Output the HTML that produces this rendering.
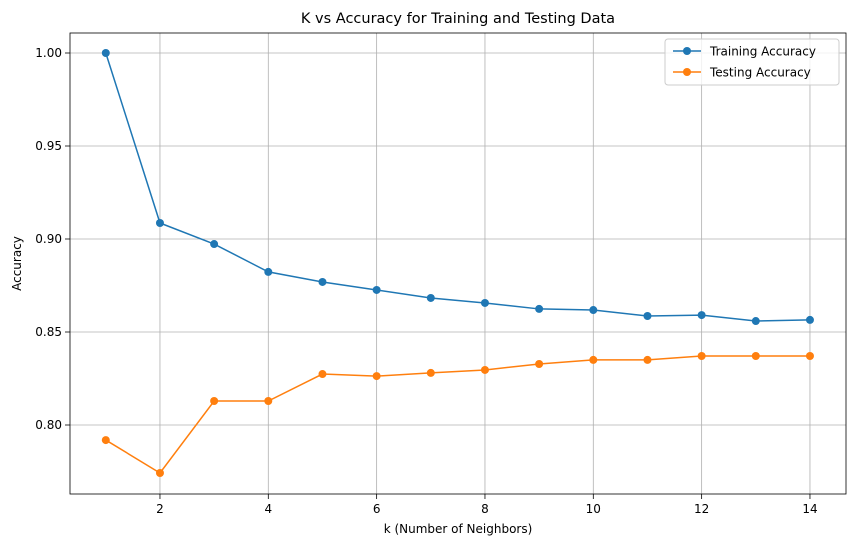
<!DOCTYPE html>
<html><head><meta charset="utf-8"><style>
body{margin:0;background:#fff;font-family:"Liberation Sans","DejaVu Sans",sans-serif;}
svg text{font-family:"DejaVu Sans","Liberation Sans",sans-serif;}
</style></head><body>
<svg id="chart" width="855" height="547" xmlns="http://www.w3.org/2000/svg"></svg>
<script>
const kValues=[1,2,3,4,5,6,7,8,9,10,11,12,13,14];
const trainAcc=[1.0,0.9086,0.8973,0.8823,0.8769,0.8726,0.8683,0.8656,0.8624,0.8618,0.8586,0.8591,0.8559,0.8565];
const testAcc=[0.7919,0.7742,0.8129,0.8129,0.8274,0.8263,0.828,0.8296,0.8328,0.835,0.835,0.8371,0.8371,0.8371];
const xTicks=[2,4,6,8,10,12,14];
const yTicks=[0.80,0.85,0.90,0.95,1.00];
const yTickLabels=["0.80","0.85","0.90","0.95","1.00"];

const L=70,R=846,T=33,B=494;
const sx=v=>105.8+(v-1)*(810-160)/12;
const sy=v=>53+(1-v)*(425-53)/0.2;
const svg=document.getElementById('chart');
const NS="http://www.w3.org/2000/svg";
function mk(tag,attrs,parent){const e=document.createElementNS(NS,tag);for(const k in attrs)e.setAttribute(k,attrs[k]);(parent||svg).appendChild(e);return e;}

const grid=mk('g',{});


xTicks.forEach(t=>{
  mk('line',{x1:sx(t),x2:sx(t),y1:T,y2:B,stroke:'#b0b0b0','stroke-width':0.8},grid);
  mk('line',{x1:sx(t),x2:sx(t),y1:B,y2:B+5,stroke:'#000','stroke-width':0.8});
  const tx=mk('text',{x:sx(t),y:B+19,'text-anchor':'middle','font-size':12});
  tx.textContent=t;
  
  
});
yTicks.forEach((t,i)=>{
  mk('line',{x1:L,x2:R,y1:sy(t),y2:sy(t),stroke:'#b0b0b0','stroke-width':0.8},grid);
  mk('line',{x1:L-5,x2:L,y1:sy(t),y2:sy(t),stroke:'#000','stroke-width':0.8});
  const tx=mk('text',{x:L-8,y:sy(t)+4,'text-anchor':'end','font-size':12});
  tx.textContent=yTickLabels[i];
  
  
});

function series(vals,color,name){
  const g=mk('g',{});
  
  
  mk('polyline',{points:vals.map((v,i)=>sx(kValues[i])+','+sy(v)).join(' '),fill:'none',stroke:color,'stroke-width':1.5},g);
  vals.forEach((v,i)=>{
    const c=mk('circle',{cx:sx(kValues[i]),cy:sy(v),r:4,fill:color},g);
    
    
  });
}
series(trainAcc,'#1f77b4','training-accuracy-series');
series(testAcc,'#ff7f0e','testing-accuracy-series');

const frame=mk('rect',{x:L,y:T,width:R-L,height:B-T,fill:'none',stroke:'#000','stroke-width':0.8});



const title=mk('text',{x:(L+R)/2,y:23,'text-anchor':'middle','font-size':14.5});
title.textContent='K vs Accuracy for Training and Testing Data';


const xl=mk('text',{x:(L+R)/2,y:533,'text-anchor':'middle','font-size':12});
xl.textContent='k (Number of Neighbors)';


const yl=mk('text',{x:0,y:0,'text-anchor':'middle','font-size':12,transform:'translate(21,'+((T+B)/2)+') rotate(-90)'});
yl.textContent='Accuracy';



const lg=mk('g',{});


mk('rect',{x:665,y:39,width:174,height:46,rx:3,fill:'#fff','fill-opacity':0.8,stroke:'#ccc'},lg);
[['Training Accuracy','#1f77b4',51],['Testing Accuracy','#ff7f0e',72]].forEach(([lab,c,y])=>{
  const e=mk('g',{},lg);
  
  
  mk('line',{x1:673,x2:701,y1:y,y2:y,stroke:c,'stroke-width':1.5},e);
  mk('circle',{cx:687,cy:y,r:4,fill:c},e);
  const t=mk('text',{x:710,y:y+4.5,'font-size':12},e);
  t.textContent=lab;
});
</script>
</body></html>
